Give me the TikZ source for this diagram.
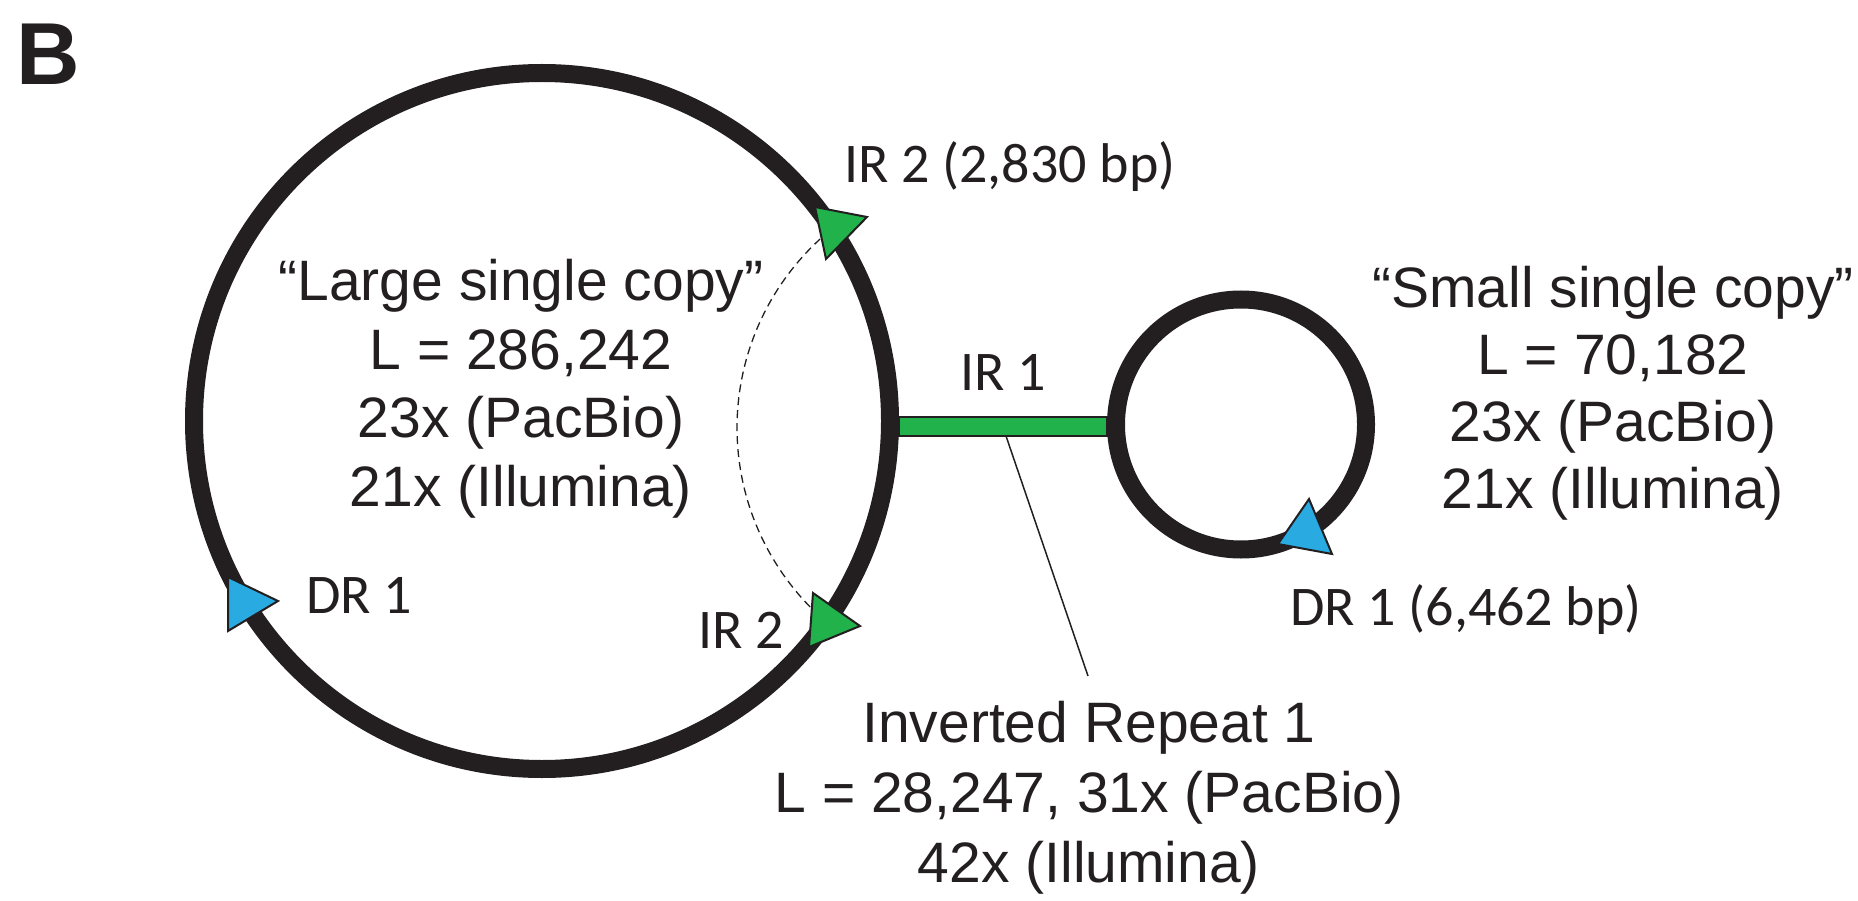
\documentclass[tikz,border=0pt]{standalone}
\usepackage{fontspec}
\setmainfont{Liberation Sans}
\newfontfamily\labelfont{Carlito}
\definecolor{ink}{HTML}{231F20}
\definecolor{irgreen}{HTML}{21B24B}
\definecolor{drblue}{HTML}{29ABE2}
\begin{document}
\begin{tikzpicture}[x=1pt,y=-1pt,
  ring/.style={circle, draw=ink, line width=18pt, inner sep=0pt},
  blocktext/.style={font=\fontsize{57}{68.5}\selectfont, align=center, text=ink, inner sep=0pt},
  tag/.style={font=\labelfont\fontsize{56}{60}\selectfont, text=ink, inner sep=0pt, anchor=base},
  marker/.style={draw=ink, line width=2pt, line join=miter},
  repeatbar/.style={fill=irgreen, draw=ink, line width=1.5pt},
  leader/.style={draw=ink, line width=1.5pt},
  junction/.style={draw=ink, line width=1.3pt, dash pattern=on 8pt off 5pt}]
\useasboundingbox (0,0) rectangle (1858,901);

% panel letter
\node[font=\bfseries\fontsize{88}{90}\selectfont, text=ink, inner sep=0pt, anchor=base west] (panel) at (16,85) {B};

% the two single-copy circles
\node[ring, minimum size=696pt] (lsc) at (542,421) {};
\node[ring, minimum size=250pt] (ssc) at (1241,424.5) {};

% inverted repeat bar joining them
\coordinate (barmid) at (1000,426.5);
\path (lsc.east |- barmid) coordinate (barL) (ssc.west |- barmid) coordinate (barR);
\draw[repeatbar] ([yshift=9.5pt]barL) rectangle ([yshift=-9.5pt]barR);

% dashed link between the two IR 2 copies
\draw[junction, domain=135.6:227.5, samples=80, variable=\t]
  plot ({993+256*cos(\t)}, {427.8+256*sin(\t)});

% repeat markers
\filldraw[marker, fill=irgreen] (815,207) -- (867,217) -- (826,259) -- cycle;
\filldraw[marker, fill=irgreen] (813,593) -- (860,626) -- (809,647) -- cycle;
\filldraw[marker, fill=drblue] (228,577) -- (278,601) -- (228,631) -- cycle;
\filldraw[marker, fill=drblue] (1309,499) -- (1332,554) -- (1278,544) -- cycle;

% labels
\node[tag] (ir2top) at (1010,183) {IR 2 (2,830 bp)};
\node[tag] (ir1) at (1003.5,390) {IR 1};
\node[tag, anchor=base west] (dr1left) at (306,613) {DR 1};
\node[tag, anchor=base west] (ir2low) at (698,648) {IR 2};
\node[tag] (dr1small) at (1466,625) {DR 1 (6,462 bp)};

\node[blocktext] (lsctext) at (521,388.7) {“Large single copy”\\L = 286,242\\23x (PacBio)\\21x (Illumina)};
\node[blocktext, font=\fontsize{57}{67}\selectfont] (ssctext) at (1613,393.7) {“Small single copy”\\L = 70,182\\23x (PacBio)\\21x (Illumina)};
\node[blocktext, font=\fontsize{57}{70}\selectfont] (irtext) at (1089,798.2) {Inverted Repeat 1\\L = 28,247, 31x (PacBio)\\42x (Illumina)};

% leader from the bar to its description
\coordinate (irtick) at (1006,436);
\coordinate (irtip) at (1088,676);
\draw[leader] (irtick) -- (irtip);
\end{tikzpicture}
\end{document}
